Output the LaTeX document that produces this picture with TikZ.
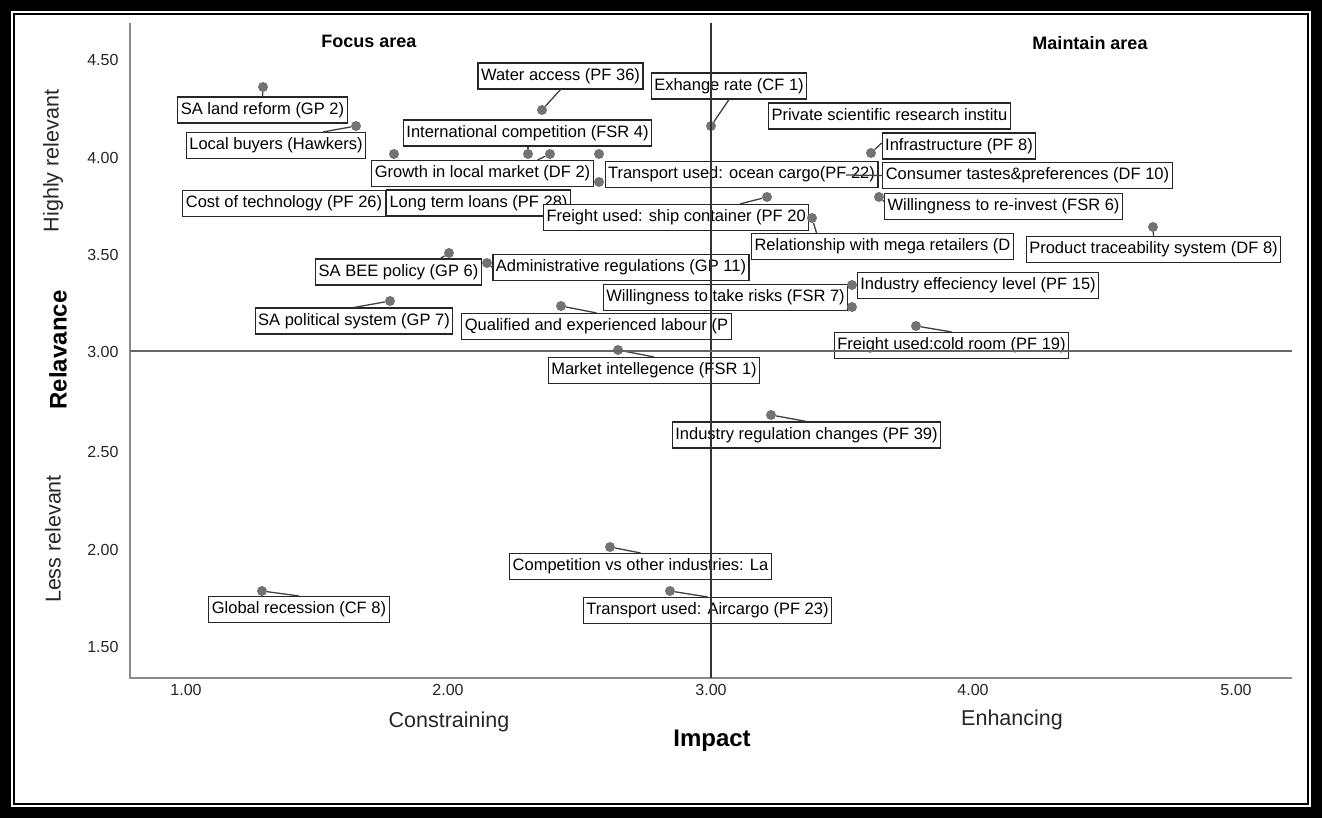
\documentclass[tikz,border=0pt]{standalone}
\usepackage{fontspec}
\setmainfont{Liberation Sans}
\usetikzlibrary{shapes,arrows}
\tikzstyle{lbl} = [rectangle, draw=black!85, line width=1.1pt, fill=white,
    inner xsep=3pt, inner ysep=0pt, text height=12.5pt, text depth=4pt,
    minimum height=26pt, font=\fontsize{16.5}{19}\selectfont]
\tikzstyle{datapt} = [circle, fill=black!55, inner sep=0pt, minimum size=10pt]
\tikzstyle{leader} = [draw=black!75, line width=1.3pt]
\tikzstyle{ticklbl} = [font=\fontsize{16}{19}\selectfont, text=black!85]
\tikzstyle{sidelbl} = [font=\fontsize{21.5}{25}\selectfont, text=black!85]
\tikzstyle{axtitle} = [font=\bfseries\fontsize{24}{28}\selectfont]
\tikzstyle{arealbl} = [font=\bfseries\fontsize{18}{22}\selectfont]

\begin{document}
\begin{tikzpicture}[x=1pt, y=-1pt]
	\useasboundingbox (0,0) rectangle (1322,818);
	\fill[black] (0,0) rectangle (1322,818);
	\fill[white] (11,11) rectangle (1311,807);
	\draw[line width=2pt] (14,14) rectangle (1308,804);

	\coordinate (ytop) at (130,23);
	\coordinate (orig) at (130,678);
	\coordinate (xend) at (1292,678);
	\coordinate (vtop) at (711,23);
	\coordinate (vbot) at (711,678);
	\coordinate (hleft) at (130,351);
	\coordinate (hright) at (1292,351);

	\node [ticklbl, anchor=east] (y450) at (122,60) {4.50};
	\node [ticklbl, anchor=east] (y400) at (122,158) {4.00};
	\node [ticklbl, anchor=east] (y350) at (122,255) {3.50};
	\node [ticklbl, anchor=east] (y300) at (122,352) {3.00};
	\node [ticklbl, anchor=east] (y250) at (122,452) {2.50};
	\node [ticklbl, anchor=east] (y200) at (122,550) {2.00};
	\node [ticklbl, anchor=east] (y150) at (122,647) {1.50};
	\node [ticklbl] (x100) at (186,690) {1.00};
	\node [ticklbl] (x200) at (448,690) {2.00};
	\node [ticklbl] (x300) at (711,690) {3.00};
	\node [ticklbl] (x400) at (973,690) {4.00};
	\node [ticklbl] (x500) at (1236,690) {5.00};

	\node [sidelbl, rotate=90] (high) at (53,161) {Highly relevant};
	\node [sidelbl, rotate=90] (less) at (53,539) {Less relevant};
	\node [axtitle, rotate=90] (relv) at (58,350) {Relavance};
	\node [sidelbl] (constr) at (449,722) {Constraining};
	\node [sidelbl] (enh) at (1012,720) {Enhancing};
	\node [axtitle] (impact) at (712,741) {Impact};
	\node [arealbl] (focus) at (369,41) {Focus area};
	\node [arealbl] (maintain) at (1090,43) {Maintain area};

	\node [lbl] (l-land) at (262.5,110) {SA land reform (GP 2)};
	\node [lbl] (l-buyers) at (276,145.5) {Local buyers (Hawkers)};
	\node [lbl] (l-water) at (560.5,76) {Water access (PF 36)};
	\node [lbl] (l-intl) at (527.5,133) {International competition (FSR 4)};
	\node [lbl] (l-exh) at (729,86) {Exhange rate (CF 1)};
	\node [lbl, anchor=west] (l-private) at (768,116) {Private scientific research institu};
	\node [lbl] (l-infra) at (959,146) {Infrastructure (PF 8)};
	\node [lbl] (l-growth) at (482.5,173.5) {Growth in local market (DF 2)};
	\node [lbl] (l-ocean) at (741.5,174.5) {Transport used: ocean cargo(PF 22)};
	\node [lbl] (l-cons) at (1027.5,175.5) {Consumer tastes\&preferences (DF 10)};
	\node [lbl] (l-cost) at (284,203.5) {Cost of technology (PF 26)};
	\node [lbl] (l-loans) at (478.5,203) {Long term loans (PF 28)};
	\node [lbl, anchor=west] (l-ship) at (543,217.5) {Freight used: ship container (PF 20};
	\node [lbl] (l-reinv) at (1003.5,206.5) {Willingness to re-invest (FSR 6)};
	\node [lbl] (l-rel) at (882.5,246.5) {Relationship with mega retailers (D};
	\node [lbl] (l-trace) at (1153.5,249.5) {Product traceability system (DF 8)};
	\node [lbl] (l-bee) at (398.5,272) {SA BEE policy (GP 6)};
	\node [lbl] (l-admin) at (621,267.5) {Administrative regulations (GP 11)};
	\node [lbl] (l-eff) at (978,285.5) {Industry effeciency level (PF 15)};
	\node [lbl] (l-risk) at (725.5,297.5) {Willingness to take risks (FSR 7)};
	\node [lbl] (l-pol) at (354,321) {SA political system (GP 7)};
	\node [lbl] (l-qual) at (596.5,326.5) {Qualified and experienced labour (P};
	\node [lbl] (l-cold) at (951.5,345.5) {Freight used:cold room (PF 19)};
	\node [lbl] (l-market) at (654,370.5) {Market intellegence (FSR 1)};
	\node [lbl] (l-reg) at (806.5,435) {Industry regulation changes (PF 39)};
	\node [lbl] (l-comp) at (640.5,566.5) {Competition vs other industries: La};
	\node [lbl] (l-air) at (707.5,610.5) {Transport used: Aircargo (PF 23)};
	\node [lbl] (l-glob) at (299,609.5) {Global recession (CF 8)};

	\node [datapt] (p-land) at (263,87) {};
	\node [datapt] (p-buyers) at (356,126) {};
	\node [datapt] (p-cost) at (394,154) {};
	\node [datapt] (p-intl) at (528,154) {};
	\node [datapt] (p-growth) at (550,154) {};
	\node [datapt] (p-loans) at (599,154) {};
	\node [datapt] (p-ocean) at (599,182) {};
	\node [datapt] (p-water) at (542,110) {};
	\node [datapt] (p-exh) at (711,126) {};
	\node [datapt] (p-infra) at (871,153) {};
	\node [datapt] (p-ship) at (767,197) {};
	\node [datapt] (p-reinv) at (879,197) {};
	\node [datapt] (p-rel) at (812,218) {};
	\node [datapt] (p-trace) at (1153,227) {};
	\node [datapt] (p-bee) at (449,253) {};
	\node [datapt] (p-admin) at (487,263) {};
	\node [datapt] (p-eff) at (852,285) {};
	\node [datapt] (p-risk) at (852,307) {};
	\node [datapt] (p-pol) at (390,301) {};
	\node [datapt] (p-qual) at (561,306) {};
	\node [datapt] (p-cold) at (916,326) {};
	\node [datapt] (p-market) at (618,350) {};
	\node [datapt] (p-reg) at (771,415) {};
	\node [datapt] (p-comp) at (610,547) {};
	\node [datapt] (p-air) at (670,591) {};
	\node [datapt] (p-glob) at (262,591) {};
	\coordinate (c-cons) at (846,175);

        \draw[leader] (p-land) -- (l-land.north);
        \draw[leader] (p-buyers) -- ([xshift=47pt]l-buyers.north);
        \draw[leader] (p-intl) -- (p-intl |- l-intl.south);
        \draw[leader] (p-growth) -- ([xshift=55pt]l-growth.north);
        \draw[leader] (p-water) -- (l-water.south);
        \draw[leader] (p-exh) -- (l-exh.south);
        \draw[leader] (p-infra) -- ([yshift=3pt]l-infra.west);
        \draw[leader] (c-cons) -- (l-cons.west);
        \draw[leader] (p-ship) -- ([xshift=197pt]l-ship.north west);
        \draw[leader] (p-reinv) -- ([yshift=5pt]l-reinv.west);
        \draw[leader] (p-rel) -- ([xshift=-66pt]l-rel.north);
        \draw[leader] (p-trace) -- (l-trace.north);
        \draw[leader] (p-bee) -- ([xshift=42pt]l-bee.north);
        \draw[leader] (p-admin) -- (l-admin.west);
        \draw[leader] (p-eff) -- (l-eff.west);
        \draw[leader] (p-risk) -- (l-risk.south east);
        \draw[leader] (p-pol) -- (l-pol.north);
        \draw[leader] (p-qual) -- (l-qual.north);
        \draw[leader] (p-cold) -- (l-cold.north);
        \draw[leader] (p-market) -- (l-market.north);
        \draw[leader] (p-reg) -- (l-reg.north);
        \draw[leader] (p-comp) -- (l-comp.north);
        \draw[leader] (p-air) -- (l-air.north);
        \draw[leader] (p-glob) -- (l-glob.north);

        \draw[black!45, line width=1.5pt] (ytop) -- (orig) -- (xend);
        \draw[black!80, line width=1.4pt] (vtop) -- (vbot);
        \draw[black!60, line width=1.4pt] (hleft) -- (hright);
\end{tikzpicture}
\end{document}
